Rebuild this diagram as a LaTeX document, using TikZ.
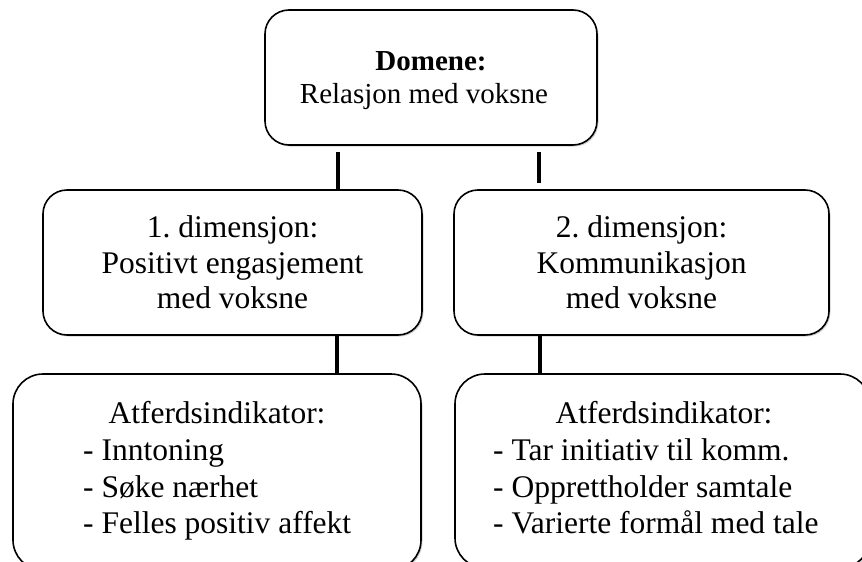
\documentclass[tikz,border=0pt]{standalone}
\usepackage{fontspec}
\setmainfont{Liberation Serif}
\usetikzlibrary{shadows}
\frenchspacing
\begin{document}
\begin{tikzpicture}[x=1pt,y=-1pt,
  box/.style={draw=black, line width=1.6pt, fill=white, rounded corners=#1, inner sep=0pt,
    drop shadow={shadow xshift=1.5pt, shadow yshift=-1.5pt, fill=black, opacity=0.18}},
  box/.default=24pt,
  link/.style={line width=4pt},
  bigtxt/.style={inner sep=0pt, anchor=base, font=\fontsize{31.5}{38}\selectfont},
  toptxt/.style={inner sep=0pt, anchor=base, font=\fontsize{29}{34}\selectfont},
  listtxt/.style={bigtxt, anchor=base west}]
\useasboundingbox (0,0) rectangle (862,562);
\clip (0,0) rectangle (862,562);
\fill[white] (0,0) rectangle (862,562);
% boxes
\node[box, minimum width=332pt, minimum height=135pt] (top) at (431,77.5) {};
\node[box, minimum width=379pt, minimum height=145pt] (m1) at (232.5,262.5) {};
\node[box, minimum width=375pt, minimum height=145pt] (m2) at (641.5,262.5) {};
\node[box=30pt, minimum width=408pt, minimum height=196pt] (b1) at (217,472) {};
\node[box=30pt, minimum width=415pt, minimum height=194pt] (b2) at (662.5,471) {};
% connector ends
\coordinate (c1a) at (338,152); \coordinate (c1b) at (338,190);
\coordinate (c2a) at (539,152); \coordinate (c2b) at (539,183);
\coordinate (c3a) at (337,335); \coordinate (c3b) at (337,374);
\coordinate (c4a) at (540,335); \coordinate (c4b) at (540,373);
\draw[link] (c1a) -- (c1b);
\draw[link] (c2a) -- (c2b);
\draw[link] (c3a) -- (c3b);
\draw[link] (c4a) -- (c4b);
% top text
\node[toptxt] (t1) at (431,70) {\bfseries Domene:};
\node[toptxt] (t2) at (424,103) {Relasjon med voksne};
% middle left
\node[bigtxt] (t3) at (232.5,237) {1. dimensjon:};
\node[bigtxt] (t4) at (232.5,273) {Positivt engasjement};
\node[bigtxt] (t5) at (232.5,308) {med voksne};
% middle right
\node[bigtxt] (t6) at (641.5,237) {2. dimensjon:};
\node[bigtxt] (t7) at (641.5,273) {Kommunikasjon};
\node[bigtxt] (t8) at (641.5,308) {med voksne};
% bottom left
\node[bigtxt] (t9) at (217,423) {Atferdsindikator:};
\node[listtxt] (t10) at (83,460) {- Inntoning};
\node[listtxt] (t11) at (83,497) {- Søke nærhet};
\node[listtxt] (t12) at (83,533) {- Felles positiv affekt};
% bottom right
\node[bigtxt] (t13) at (664,423) {Atferdsindikator:};
\node[listtxt] (t14) at (493,460) {- Tar initiativ til komm.};
\node[listtxt] (t15) at (493,497) {- Opprettholder samtale};
\node[listtxt] (t16) at (493,533) {- Varierte formål med tale};
\end{tikzpicture}
\end{document}
